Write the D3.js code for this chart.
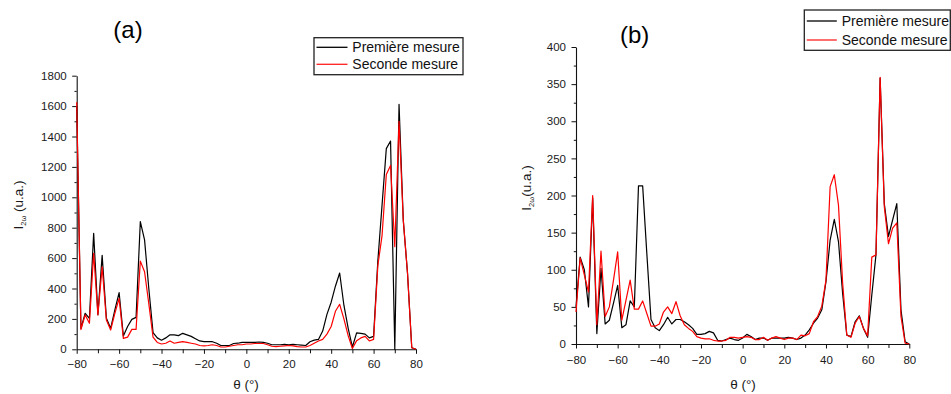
<!DOCTYPE html>
<html>
<head>
<meta charset="utf-8">
<script src="https://cdn.jsdelivr.net/npm/d3@7"></script>
<style>
html,body{margin:0;padding:0;background:#fff;}
svg{display:block;font-family:"Liberation Sans",Arial,sans-serif;}
</style>
</head>
<body>
<svg id="chart" width="951" height="394"></svg>
<script>
// ---------- data ----------
const theta = [-80,-78,-76,-74,-72,-70,-68,-66,-64,-62,
  -60,-58,-56,-54,-52,-50,-48,-46,-44,-42,
  -40,-38,-36,-34,-32,-30,-28,-26,-24,-22,
  -20,-18,-16,-14,-12,-10,-8,-6,-4,-2,
  0,2,4,6,8,10,12,14,16,18,
  20,22,24,26,28,30,32,34,36,38,
  40,42,44,46,48,50,52,54,56,58,
  60,62,64,66,68,70,72,74,76,78,80];

const seriesNames = ["Première mesure", "Seconde mesure"];

// Panel (a)
const a_premiere = [1600,138,237,204,763,228,618,204,138,259,
  373,88,150,197,210,840,720,400,110,75,
  60,75,95,95,90,105,95,85,70,55,
  50,50,50,40,25,25,25,38,40,45,
  45,45,45,48,45,40,30,30,30,32,
  30,32,30,28,25,50,60,65,120,230,
  310,415,502,290,140,15,108,105,100,75,
  85,580,950,1320,1370,0,1612,850,500,10,0];
const a_seconde = [1625,130,226,171,632,226,543,193,127,237,
  335,72,80,131,131,580,510,300,80,45,
  35,40,55,40,45,50,45,40,35,25,
  22,25,30,25,15,15,20,25,30,30,
  35,35,38,38,38,30,20,18,20,22,
  25,22,18,15,15,25,40,55,65,100,
  150,250,296,200,90,5,57,75,85,55,
  65,550,750,1150,1210,675,1500,850,500,10,0];

// Panel (b)
const b_premiere = [50,117,100,50,197,14,102,27,32,55,
  79,22,26,58,50,213,213,122,33,22,
  18,26,36,27,33,33,30,26,21,13,
  13,14,17,15,5,4,6,8,6,5,
  8,13,10,6,8,8,5,8,8,8,
  8,9,8,6,8,12,19,28,35,46,
  84,140,168,138,68,12,10,30,38,21,
  9,66,120,358,189,145,167,189,46,3,0];
const b_seconde = [43,116,93,70,200,26,125,37,50,86,
  124,32,59,86,47,47,58,41,24,24,
  27,43,50,41,57,38,26,21,17,10,
  8,7,7,5,4,4,5,9,9,8,
  9,10,9,6,6,9,5,8,10,8,
  6,8,8,6,12,11,14,30,37,51,
  86,212,228,187,82,12,9,28,37,21,
  11,117,120,359,185,135,156,163,37,1,0];

// ticks
const xTicksMajor = [-80,-60,-40,-20,0,20,40,60,80];
const xTicksMinor = [-70,-50,-30,-10,10,30,50,70];
const yTicksMajorA = [0,200,400,600,800,1000,1200,1400,1600,1800];
const yTicksMinorA = [100,300,500,700,900,1100,1300,1500,1700];
const yTicksMajorB = [0,50,100,150,200,250,300,350,400];
const yTicksMinorB = [25,75,125,175,225,275,325,375];

const svg = d3.select("#chart");
svg.append("rect").attr("width",951).attr("height",394).attr("fill","#fff");

function drawPanel(p) {
  const g = svg.append("g");
  const x = d3.scaleLinear().domain([-80,80]).range([p.left, p.right]);
  const y = d3.scaleLinear().domain([0, p.ymax]).range([p.bottom, p.top]);

  // minor ticks
  g.append("g").attr("transform",`translate(0,${p.bottom})`)
    .call(d3.axisBottom(x).tickValues(xTicksMinor).tickSize(4).tickFormat("").tickSizeOuter(0))
    .call(s => s.select(".domain").remove());
  g.append("g").attr("transform",`translate(${p.left},0)`)
    .call(d3.axisLeft(y).tickValues(p.yMinor).tickSize(2.2).tickFormat("").tickSizeOuter(0))
    .call(s => s.select(".domain").remove());

  // major axes
  const xa = g.append("g").attr("transform",`translate(0,${p.bottom})`)
    .call(d3.axisBottom(x).tickValues(xTicksMajor).tickSize(4.5).tickPadding(p.xPad).tickSizeOuter(0).tickFormat(d3.format("d")));
  const ya = g.append("g").attr("transform",`translate(${p.left},0)`)
    .call(d3.axisLeft(y).tickValues(p.yMajor).tickSize(4.5).tickPadding(5.5).tickSizeOuter(0).tickFormat(d3.format("d")));
  [xa, ya].forEach(a => {
    a.selectAll("text").attr("font-size", 11.5).attr("fill","#1a1a1a")
      .attr("font-family",'"Liberation Sans",Arial,sans-serif');
    a.select(".domain").attr("stroke","#111").attr("stroke-width",1.1);
  });
  g.selectAll(".tick line").attr("stroke","#111").attr("stroke-width",1);

  // lines
  const line = d3.line().x((d,i) => x(theta[i])).y(d => y(d));
  g.append("path").datum(p.s1).attr("d", line)
    .attr("fill","none").attr("stroke","#000").attr("stroke-width",1.2).attr("stroke-linejoin","round");
  g.append("path").datum(p.s2).attr("d", line)
    .attr("fill","none").attr("stroke","#ff0000").attr("stroke-width",1.2).attr("stroke-linejoin","round");

  // title
  g.append("text").attr("x", p.titleX).attr("y", p.titleY)
    .attr("text-anchor","middle").attr("font-size",24).attr("fill","#000")
    .text(p.title);

  // x label
  g.append("text").attr("x", p.xlabX).attr("y", 389)
    .attr("text-anchor","middle").attr("font-size",13.5).attr("fill","#1a1a1a")
    .text("θ (°)");

  // y label
  const yl = g.append("text")
    .attr("transform",`translate(${p.ylabX},${p.ylabY}) rotate(-90)`)
    .attr("text-anchor","middle").attr("font-size",13.5).attr("fill","#1a1a1a");
  yl.append("tspan").text("I");
  yl.append("tspan").attr("font-size",7.5).attr("dy",3).text("2ω");
  yl.append("tspan").attr("dy",-3).text(p.ylabSep + "(u.a.)");

  // legend
  const L = p.legend;
  g.append("rect").attr("x",L.x).attr("y",L.y).attr("width",L.w).attr("height",L.h)
    .attr("fill","#fff").attr("stroke","#222").attr("stroke-width",1.3);
  const colors = ["#000","#ff2020"];
  seriesNames.forEach((name,i) => {
    const ly = L.y + L.row0 + i*L.dy;
    g.append("line").attr("x1",L.x+2.5).attr("x2",L.x+2.5+L.lineW).attr("y1",ly).attr("y2",ly)
      .attr("stroke",colors[i]).attr("stroke-width",1.3);
    g.append("text").attr("x",L.x+L.textOff).attr("y",ly+5)
      .attr("font-size",14).attr("fill","#111").text(name);
  });
}

drawPanel({
  left:76.7, right:416, top:75.7, bottom:349.3, ymax:1800,
  yMajor:yTicksMajorA, yMinor:yTicksMinorA, xPad:6.2,
  s1:a_premiere, s2:a_seconde,
  title:"(a)", titleX:128, titleY:37.5,
  xlabX:246, ylabX:22.5, ylabY:205, ylabSep:" ",
  legend:{x:314, y:37.7, w:149, h:37, row0:9.6, dy:17, lineW:31, textOff:38.3}
});

drawPanel({
  left:576, right:909.3, top:47, bottom:344, ymax:400,
  yMajor:yTicksMajorB, yMinor:yTicksMinorB, xPad:7.5,
  s1:b_premiere, s2:b_seconde,
  title:"(b)", titleX:634.7, titleY:42.5,
  xlabX:743, ylabX:531, ylabY:188, ylabSep:"",
  legend:{x:804.3, y:10, w:146, h:40.3, row0:11, dy:19, lineW:30, textOff:37.4}
});
</script>
</body>
</html>
